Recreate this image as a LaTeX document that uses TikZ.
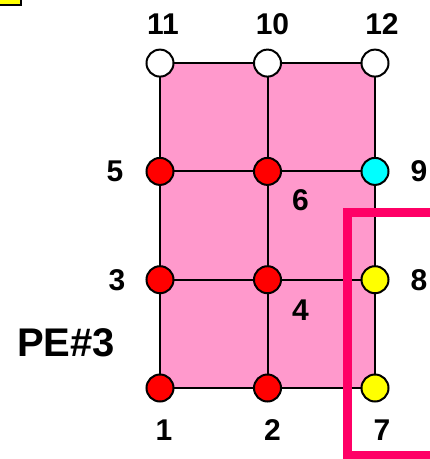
\documentclass[tikz,border=0pt]{standalone}
\usepackage{fontspec}
\setmainfont{Liberation Sans}
\usetikzlibrary{positioning, backgrounds, calc}
\definecolor{meshpink}{RGB}{255,153,204}
\definecolor{bordermag}{RGB}{255,0,102}
\definecolor{vtxcyan}{RGB}{0,255,255}
\definecolor{vtxyellow}{RGB}{255,255,0}
\definecolor{vtxred}{RGB}{255,0,0}

\begin{document}
\begin{tikzpicture}[
    x=1pt, y=-1pt,
    vtx/.style={
        circle, draw=black, line width=2pt,
        minimum size=27pt, inner sep=0pt
    },
    extvtx/.style={vtx, fill=white},
    ownvtx/.style={vtx, fill=vtxred},
    bndvtx/.style={vtx, fill=vtxyellow},
    cornvtx/.style={vtx, fill=vtxcyan},
    lbl/.style={font=\fontsize{30}{30}\selectfont\bfseries, inner sep=0pt},
    edge/.style={line width=2pt},
    magline/.style={draw=bordermag, line width=9pt, line join=miter}
]
\clip (0,0) rectangle (430,459);

% ---------------- corner box ----------------
\draw[fill=vtxyellow, line width=2pt] (-10,-10) rectangle (21,5);

% ---------------- vertices ----------------
\node[ownvtx] (n1) at (160,388) {};
\node[ownvtx, right=78.5pt of n1] (n2) {};
\node[bndvtx, right=78.5pt of n2] (n7) {};
\node[ownvtx, above=79.3pt of n1] (n3) {};
\node[ownvtx, right=78.5pt of n3] (n4) {};
\node[bndvtx, right=78.5pt of n4] (n8) {};
\node[ownvtx, above=79.3pt of n3] (n5) {};
\node[ownvtx, right=78.5pt of n5] (n6) {};
\node[cornvtx, right=78.5pt of n6] (n9) {};
\node[extvtx, above=79.3pt of n5] (n11) {};
\node[extvtx, right=78.5pt of n11] (n10) {};
\node[extvtx, right=78.5pt of n10] (n12) {};

% ---------------- mesh ----------------
\begin{scope}[on background layer]
    \fill[meshpink] (n1.center) rectangle (n12.center);
    \draw[edge] (n1.center) -- (n7.center);
    \draw[edge] (n3.center) -- (n8.center);
    \draw[edge] (n5.center) -- (n9.center);
    \draw[edge] (n11.center) -- (n12.center);
    \draw[edge] (n1.center) -- (n11.center);
    \draw[edge] (n2.center) -- (n10.center);
    \draw[edge] (n7.center) -- (n12.center);
\end{scope}

% ---------------- labels ----------------
\node[lbl, above=14pt of n11, xshift=3pt] (l11) {11};
\node[lbl, above=14pt of n10, xshift=5pt] (l10) {10};
\node[lbl, above=14pt of n12, xshift=7pt] (l12) {12};
\node[lbl, left=22pt of n5] (l5) {5};
\node[lbl, right=21pt of n9] (l9) {9};
\node[lbl] (l6) at ($(n6)+(33,29)$) {6};
\node[lbl, left=20pt of n3] (l3) {3};
\node[lbl, right=21pt of n8] (l8) {8};
\node[lbl] (l4) at ($(n4)+(33,30)$) {4};
\node[lbl, below=17pt of n1, xshift=4pt] (l1) {1};
\node[lbl, below=17pt of n2, xshift=5pt] (l2) {2};
\node[lbl, below=17pt of n7, xshift=7pt] (l7) {7};

\node[font=\fontsize{40}{40}\selectfont\bfseries, inner sep=0pt] (pe) at (66,343) {PE\#3};

% ---------------- PE boundary ----------------
\draw[magline] (440,212) -| (347.5,455) -- (440,455);

\end{tikzpicture}
\end{document}
